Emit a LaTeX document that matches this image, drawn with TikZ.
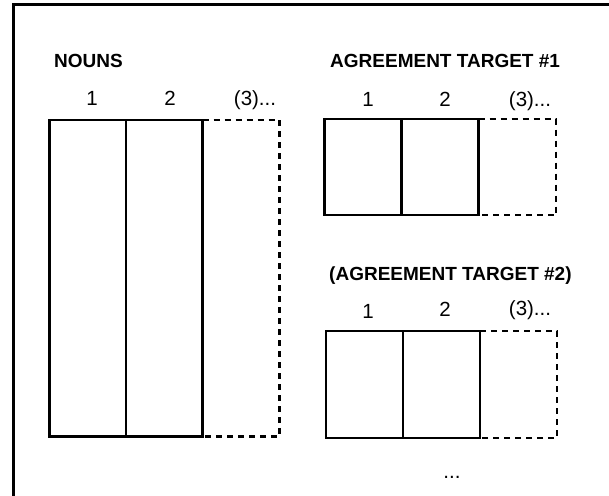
\documentclass[tikz,border=0pt]{standalone}
\usepackage{fontspec}
\setmainfont{Liberation Sans}
\begin{document}
\begin{tikzpicture}[x=1pt,y=-1pt,
  frameline/.style={line width=3pt},
  cell/.style={draw,line width=2.6pt,rectangle,inner sep=0pt,outer sep=0pt},
  slot/.style={line width=2.6pt,dash pattern=on 6pt off 5pt},
  heading/.style={font=\fontsize{19}{22}\selectfont\bfseries,inner sep=0pt,anchor=base west},
  colnum/.style={font=\fontsize{20.5}{24}\selectfont,inner sep=0pt,anchor=base}]
\useasboundingbox (0,0) rectangle (609,495);
\begin{scope}
\clip (0,0) rectangle (609,495);
\draw[frameline] (13.5,510) -- (13.5,5) -- (620,5);
\end{scope}

% Nouns
\node[heading] (nounsT) at (54,67) {NOUNS};
\node[cell,minimum width=76.7pt,minimum height=316.7pt,anchor=north west] (n1) at (49.3,120) {};
\node[cell,minimum width=76.7pt,minimum height=316.7pt,anchor=north west] (n2) at (n1.north east) {};
\coordinate (n3ne) at (279.3,120);
\draw[slot] (n2.north east) -- (n3ne) |- (n2.south east);
\node[colnum] (nl1) at (92,105) {1};
\node[colnum] (nl2) at (170,105) {2};
\node[colnum] (nl3) at (255,105) {(3)...};

% Agreement target 1
\node[heading] (aT) at (330,67) {AGREEMENT TARGET \#1};
\node[cell,minimum width=77pt,minimum height=96pt,anchor=north west] (a1) at (324.5,119) {};
\node[cell,minimum width=77pt,minimum height=96pt,anchor=north west] (a2) at (a1.north east) {};
\coordinate (a3ne) at (556,119);
\draw[slot] (a2.north east) -- (a3ne) |- (a2.south east);
\node[colnum] (al1) at (368,106) {1};
\node[colnum] (al2) at (445,106) {2};
\node[colnum] (al3) at (530,106) {(3)...};

% Agreement target 2
\node[heading] (bT) at (329,280) {(AGREEMENT TARGET \#2)};
\node[cell,minimum width=77pt,minimum height=107pt,anchor=north west] (b1) at (326,331) {};
\node[cell,minimum width=77pt,minimum height=107pt,anchor=north west] (b2) at (b1.north east) {};
\coordinate (b3ne) at (557,331);
\draw[slot] (b2.north east) -- (b3ne) |- (b2.south east);
\node[colnum] (bl1) at (368,318) {1};
\node[colnum] (bl2) at (445,316) {2};
\node[colnum] (bl3) at (530,315) {(3)...};

\node[colnum] (more) at (452,478) {...};
\end{tikzpicture}
\end{document}
